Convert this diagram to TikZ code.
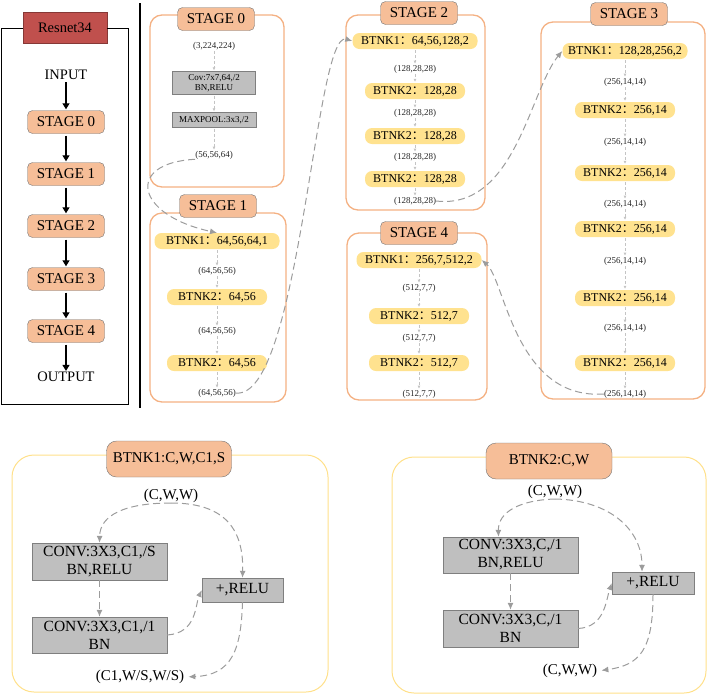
\documentclass[tikz,border=0pt]{standalone}
\usepackage{fontspec}
\setmainfont{Liberation Serif}
\newfontfamily\cjk{Noto Sans CJK SC}
\usepackage{xcolor}
\usetikzlibrary{arrows.meta}
\definecolor{stageline}{HTML}{F4B183}
\definecolor{stagefill}{HTML}{F6BE98}
\definecolor{pillfill}{HTML}{FFE28F}
\definecolor{convfill}{HTML}{BFBFBF}
\definecolor{convline}{HTML}{7F7F7F}
\definecolor{linkgray}{HTML}{9C9C9C}
\definecolor{resred}{HTML}{C0504D}
\definecolor{btnkline}{HTML}{FFE08A}

\begin{document}
\begin{tikzpicture}[x=1pt,y=-1pt]
\tikzstyle{every node}+=[inner sep=0pt]
\tikzstyle{stagebox}=[draw=black!55, fill=stagefill, rounded corners=5pt, minimum width=77pt, minimum height=23pt, font=\fontsize{15}{17}\selectfont]
\tikzstyle{resbox}=[draw=resred!70!black, fill=resred, minimum width=84pt, minimum height=31pt, font=\fontsize{14.5}{17}\selectfont]
\tikzstyle{sidetext}=[font=\fontsize{14.5}{17}\selectfont]
\tikzstyle{stageframe}=[draw=stageline, line width=1.3pt, rounded corners=12pt]
\tikzstyle{btnkone}=[fill=pillfill, rounded corners=7pt, minimum width=125pt, minimum height=16pt, font=\fontsize{12}{14}\selectfont]
\tikzstyle{btnktwo}=[fill=pillfill, rounded corners=7pt, minimum width=100pt, minimum height=16pt, font=\fontsize{12}{14}\selectfont]
\tikzstyle{dims}=[text=black!85, font=\fontsize{9}{10}\selectfont]
\tikzstyle{convbox}=[draw=convline, fill=convfill, text width=80pt, align=center, font=\fontsize{9}{10}\selectfont]
\tikzstyle{flow}=[draw=linkgray!60, line width=0.6pt, dash pattern=on 3pt off 2pt, -{Latex[length=3pt,width=3pt]}, shorten <=1pt, shorten >=1pt]
\tikzstyle{bigflow}=[line width=1.2pt, -{Triangle[length=6pt,width=7pt]}, shorten <=2pt, shorten >=1pt]
\tikzstyle{link}=[draw=linkgray, line width=1pt, dash pattern=on 7pt off 4pt, -{Latex[length=7pt,width=6pt]}]
\tikzstyle{btnkframe}=[draw=btnkline, line width=1pt, rounded corners=22pt]
\tikzstyle{bighead}=[draw=black!55, fill=stagefill, rounded corners=10pt, minimum height=36pt, font=\fontsize{15}{17}\selectfont]
\tikzstyle{bigbox}=[draw=convline, fill=convfill, text width=130pt, align=center, font=\fontsize{15.5}{18}\selectfont]
\tikzstyle{addbox}=[draw=convline, fill=convfill, font=\fontsize{15.5}{18}\selectfont]
\tikzstyle{bigtext}=[font=\fontsize{15}{17}\selectfont]
\useasboundingbox (0,0) rectangle (708,694);

\node[resbox] (res) at (65,28) {Resnet34};
\node[sidetext] (input) at (66,75) {INPUT};
\node[stagebox] (side0) at (66,122) {STAGE 0};
\node[stagebox] (side1) at (66,174) {STAGE 1};
\node[stagebox] (side2) at (66,226) {STAGE 2};
\node[stagebox] (side3) at (66,279) {STAGE 3};
\node[stagebox] (side4) at (66,331) {STAGE 4};
\node[sidetext] (output) at (66,377) {OUTPUT};
\draw (res.west) -| (1,404) -| (128,28) -- (res.east);
\draw[bigflow] (input) -- (side0);
\draw[bigflow] (side0) -- (side1);
\draw[bigflow] (side1) -- (side2);
\draw[bigflow] (side2) -- (side3);
\draw[bigflow] (side3) -- (side4);
\draw[bigflow] (side4) -- (output);
\draw[line width=2.5pt] (140,3) -- (140,408);

\draw[stageframe] (150,15) rectangle (284,187);
\node[stagebox] (stage0) at (216,19) {STAGE 0};
\node[dims] (s0in) at (214,46) {(3,224,224)};
\node[convbox, minimum width=83pt, minimum height=23pt] (s0conv) at (214,83) {Cov:7x7,64,/2\\BN,RELU};
\node[convbox, minimum width=84pt, minimum height=15pt] (s0pool) at (214,120) {MAXPOOL:3x3,/2};
\node[dims] (s0out) at (214,155) {(56,56,64)};
\draw[flow] (s0in) -- (s0conv);
\draw[flow] (s0conv) -- (s0pool);
\draw[flow] (s0pool) -- (s0out);

\draw[stageframe] (150,213) rectangle (286,402);
\node[stagebox] (stage1) at (218,206) {STAGE 1};
\node[btnkone] (s1b1) at (217,241) {BTNK1{\cjk ：}64,56,64,1};
\node[dims] (s1d1) at (217,271) {(64,56,56)};
\node[btnktwo] (s1b2) at (217,297) {BTNK2{\cjk ：}64,56};
\node[dims] (s1d2) at (217,331) {(64,56,56)};
\node[btnktwo] (s1b3) at (217,363) {BTNK2{\cjk ：}64,56};
\node[dims] (s1out) at (217,393) {(64,56,56)};
\draw[flow] (s1b1) -- (s1d1);
\draw[flow] (s1d1) -- (s1b2);
\draw[flow] (s1b2) -- (s1d2);
\draw[flow] (s1d2) -- (s1b3);
\draw[flow] (s1b3) -- (s1out);

\draw[stageframe] (346,15) rectangle (485,210);
\node[stagebox] (stage2) at (419,13) {STAGE 2};
\node[btnkone] (s2b1) at (415,41) {BTNK1{\cjk ：}64,56,128,2};
\node[dims] (s2d1) at (415,69) {(128,28,28)};
\node[btnktwo] (s2b2) at (415,91) {BTNK2{\cjk ：}128,28};
\node[dims] (s2d2) at (415,113) {(128,28,28)};
\node[btnktwo] (s2b3) at (415,136) {BTNK2{\cjk ：}128,28};
\node[dims] (s2d3) at (415,157) {(128,28,28)};
\node[btnktwo] (s2b4) at (415,179) {BTNK2{\cjk ：}128,28};
\node[dims] (s2out) at (415,201) {(128,28,28)};
\draw[flow] (s2b1) -- (s2d1);
\draw[flow] (s2d1) -- (s2b2);
\draw[flow] (s2b2) -- (s2d2);
\draw[flow] (s2d2) -- (s2b3);
\draw[flow] (s2b3) -- (s2d3);
\draw[flow] (s2d3) -- (s2b4);
\draw[flow] (s2b4) -- (s2out);

\draw[stageframe] (541,22) rectangle (705,399);
\node[stagebox] (stage3) at (629,14) {STAGE 3};
\node[btnkone] (s3b1) at (625,51) {BTNK1{\cjk ：}128,28,256,2};
\node[dims] (s3d1) at (625,82) {(256,14,14)};
\node[btnktwo] (s3b2) at (625,110) {BTNK2{\cjk ：}256,14};
\node[dims] (s3d2) at (625,142) {(256,14,14)};
\node[btnktwo] (s3b3) at (625,173) {BTNK2{\cjk ：}256,14};
\node[dims] (s3d3) at (625,204) {(256,14,14)};
\node[btnktwo] (s3b4) at (625,229) {BTNK2{\cjk ：}256,14};
\node[dims] (s3d4) at (625,261) {(256,14,14)};
\node[btnktwo] (s3b5) at (625,298) {BTNK2{\cjk ：}256,14};
\node[dims] (s3d5) at (625,328) {(256,14,14)};
\node[btnktwo] (s3b6) at (625,363) {BTNK2{\cjk ：}256,14};
\node[dims] (s3out) at (625,394) {(256,14,14)};
\draw[flow] (s3b1) -- (s3d1);
\draw[flow] (s3d1) -- (s3b2);
\draw[flow] (s3b2) -- (s3d2);
\draw[flow] (s3d2) -- (s3b3);
\draw[flow] (s3b3) -- (s3d3);
\draw[flow] (s3d3) -- (s3b4);
\draw[flow] (s3b4) -- (s3d4);
\draw[flow] (s3d4) -- (s3b5);
\draw[flow] (s3b5) -- (s3d5);
\draw[flow] (s3d5) -- (s3b6);
\draw[flow] (s3b6) -- (s3out);

\draw[stageframe] (347,233) rectangle (487,400);
\node[stagebox] (stage4) at (419,233) {STAGE 4};
\node[btnkone] (s4b1) at (419,260) {BTNK1{\cjk ：}256,7,512,2};
\node[dims] (s4d1) at (419,288) {(512,7,7)};
\node[btnktwo] (s4b2) at (419,316) {BTNK2{\cjk ：}512,7};
\node[dims] (s4d2) at (419,338) {(512,7,7)};
\node[btnktwo] (s4b3) at (419,363) {BTNK2{\cjk ：}512,7};
\node[dims] (s4out) at (419,394) {(512,7,7)};
\draw[flow] (s4b1) -- (s4d1);
\draw[flow] (s4d1) -- (s4b2);
\draw[flow] (s4b2) -- (s4d2);
\draw[flow] (s4d2) -- (s4b3);
\draw[flow] (s4b3) -- (s4out);

\draw[link] (s0out.south west) .. controls (125,163) and (135,215) .. (s1b1.north);
\draw[link] (s1out.east) .. controls (300,400) and (315,30) .. (s2b1.west);
\draw[link] (s2out.east) .. controls (515,210) and (530,90) .. (s3b1.west);
\draw[link] (s3out.west) .. controls (515,400) and (505,280) .. (s4b1.east);

\draw[btnkframe] (12,455) rectangle (328,692);
\node[bighead, minimum width=125pt] (b1head) at (169,459) {BTNK1:C,W,C1,S};
\node[bigtext] (b1in) at (171,496) {(C,W,W)};
\node[bigbox, minimum width=135pt, minimum height=37pt] (b1c1) at (99.5,561.5) {CONV:3X3,C1,/S\\BN,RELU};
\node[bigbox, minimum width=135pt, minimum height=36pt] (b1c2) at (99.5,635) {CONV:3X3,C1,/1\\BN};
\node[addbox, minimum width=81pt, minimum height=24pt] (b1add) at (242.5,590) {+,RELU};
\node[bigtext] (b1out) at (140,677) {(C1,W/S,W/S)};
\draw[link] (b1in.south) .. controls (125,503) and (100,515) .. (b1c1.north);
\draw[link] (b1in.south) .. controls (215,503) and (244,520) .. (b1add.north);
\draw[link] (b1c1) -- (b1c2);
\draw[link] (b1c2.east) .. controls (197,633) and (195,605) .. (b1add.west);
\draw[link, shorten >=4pt] (b1add.south) .. controls (241,650) and (232,675) .. (b1out.east);

\draw[btnkframe] (392,457) rectangle (706,693);
\node[bighead, minimum width=126pt] (b2head) at (549,461) {BTNK2:C,W};
\node[bigtext] (b2in) at (555,492) {(C,W,W)};
\node[bigbox, minimum width=135pt, minimum height=36pt] (b2c1) at (510.5,555) {CONV:3X3,C,/1\\BN,RELU};
\node[bigbox, minimum width=135pt, minimum height=37pt] (b2c2) at (510.5,628.5) {CONV:3X3,C,/1\\BN};
\node[addbox, minimum width=82pt, minimum height=22pt] (b2add) at (653,583) {+,RELU};
\node[bigtext] (b2out) at (570,671) {(C,W,W)};
\draw[link] (b2in.south) .. controls (520,500) and (498,512) .. ([xshift=-12pt]b2c1.north);
\draw[link] (b2in.south) .. controls (610,500) and (642,530) .. ([xshift=-11pt]b2add.north);
\draw[link] (b2c1) -- (b2c2);
\draw[link] (b2c2.east) .. controls (605,627) and (606,600) .. (b2add.west);
\draw[link, shorten >=4pt] (b2add.south) .. controls (653,650) and (640,665) .. (b2out.east);
\end{tikzpicture}
\end{document}
